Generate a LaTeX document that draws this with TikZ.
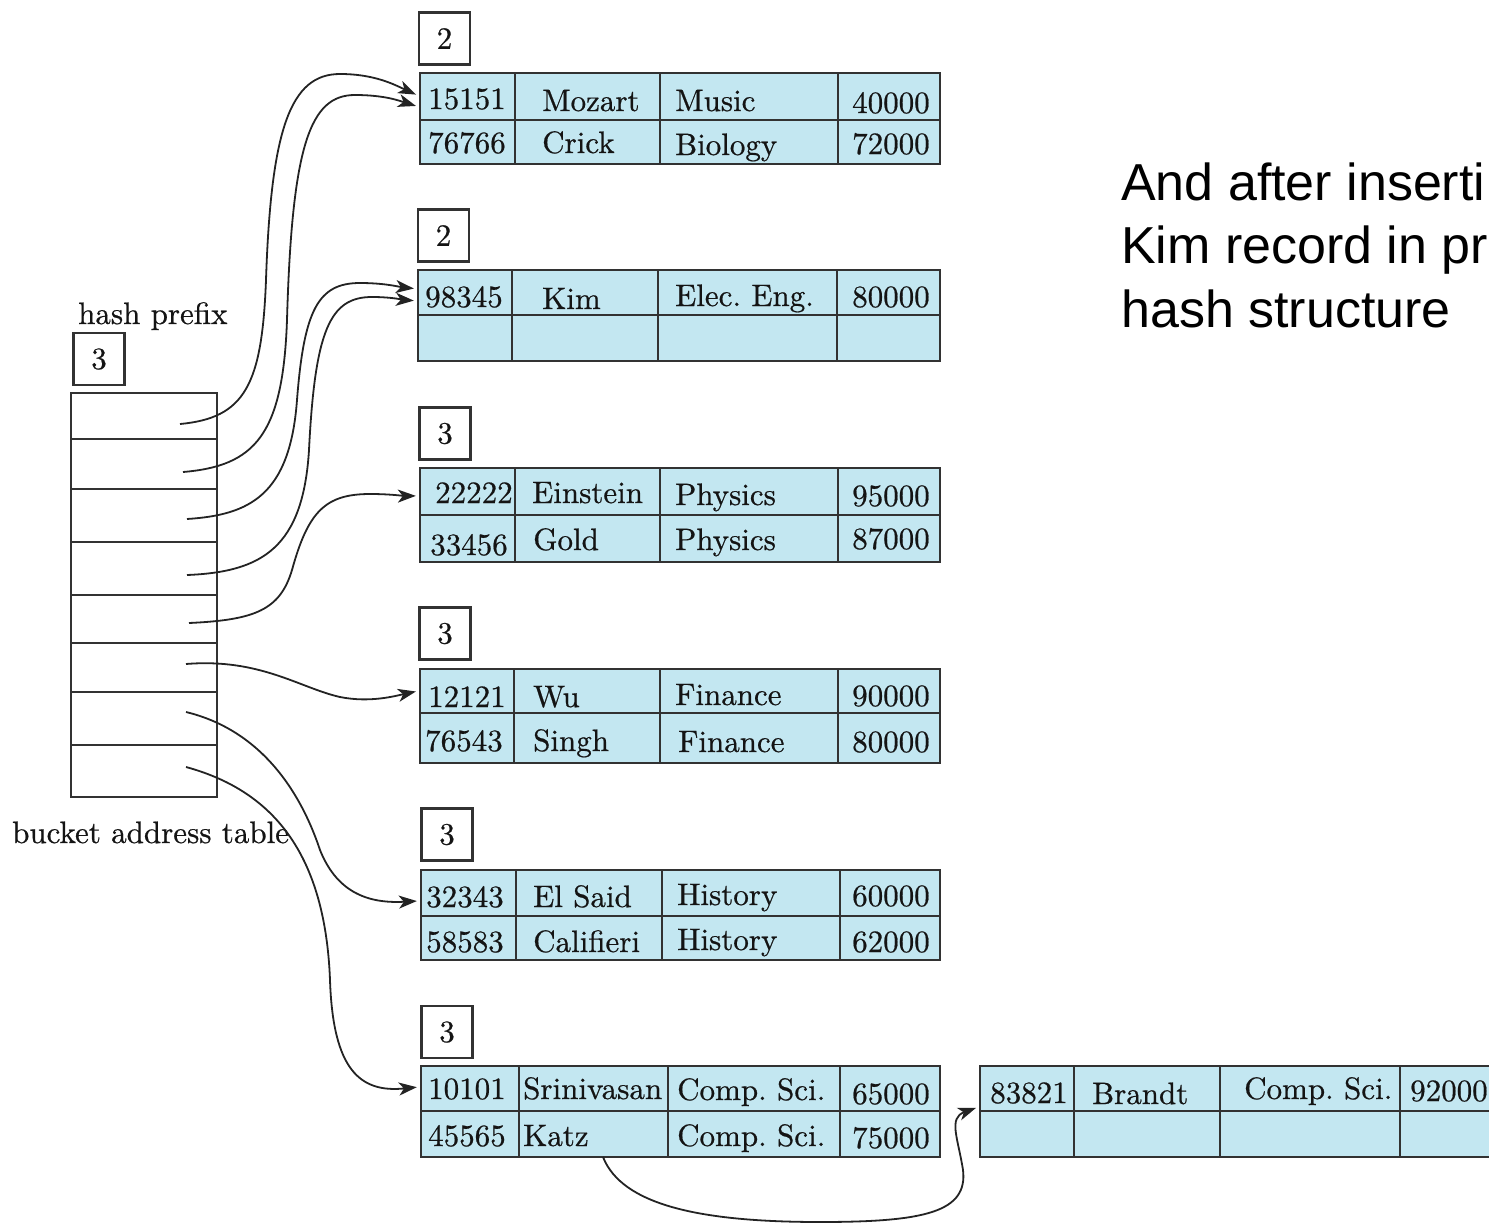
\documentclass[tikz,border=0pt]{standalone}
\usepackage{fontspec}
\newfontfamily\sansfnt{Liberation Sans}
\newfontfamily\cellfnt{lmroman10-regular.otf}[FakeBold=0.6]
\usetikzlibrary{arrows.meta,fit}
\frenchspacing
\definecolor{cellblue}{RGB}{195,231,241}
\definecolor{lineclr}{RGB}{50,50,50}
\definecolor{txtclr}{RGB}{20,20,20}
\definecolor{arrclr}{RGB}{35,35,35}
\newcommand{\celltxt}{\cellfnt\fontsize{31}{37}\selectfont}
\newcommand{\mkbucket}[9]{%
  \node[bktnode, fit={(#2,#3) (#4,#5)}] (#1) {};
  \draw[tbl] (#2,#6) -- (#4,#6) (#7,#3) -- (#7,#5) (#8,#3) -- (#8,#5) (#9,#3) -- (#9,#5);
}
\tikzset{
  bktnode/.style={draw=lineclr, line width=2.3pt, fill=cellblue, inner sep=0pt},
  tbl/.style={draw=lineclr, line width=2.3pt},
  depthbox/.style={draw=lineclr, line width=2.3pt, fill=white, minimum width=51pt, minimum height=52pt, inner sep=0pt, font=\celltxt, text=txtclr},
  cell/.style={anchor=base west, inner sep=0pt, font=\celltxt, text=txtclr},
  arr/.style={draw=arrclr, line width=1.8pt, -{Stealth[length=18pt,width=13pt,inset=5pt]}, shorten >=3pt},
  note/.style={anchor=base west, inner sep=0pt, font=\sansfnt\fontsize{52}{63}\selectfont, text=black},
}
\begin{document}
\begin{tikzpicture}[x=1pt,y=-1pt]
\useasboundingbox (0,0) rectangle (1489,1226);
\clip (0,0) rectangle (1489,1226);

% ---------- bucket address table ----------
\node[cell] (hp) at (78,324) {hash prefix};
\node[depthbox] (gd) at (99,359) {3};
\node[draw=lineclr, line width=2.3pt, fit={(71,393) (217,797)}, inner sep=0pt] (bat) {};
\foreach \yy in {439,489,542,595,643,692,745}
  \draw[tbl] (71,\yy) -- (217,\yy);
\node[cell] (bl) at (12,843) {bucket address table};

% ---------- buckets ----------
\mkbucket{b1}{420}{73}{940}{164}{120}{515}{660}{838}
\node[depthbox] (d1) at (444.5,38.5) {2};
\node[cell] at (428,109) {15151};
\node[cell] at (542,111) {Mozart};
\node[cell] at (675,111) {Music};
\node[cell] at (852,113) {40000};
\node[cell] at (428,153) {76766};
\node[cell] at (542,153) {Crick};
\node[cell] at (675,155) {Biology};
\node[cell] at (852,154) {72000};

\mkbucket{b2}{418}{270}{940}{361}{315}{512}{658}{837}
\node[depthbox] (d2) at (443.5,235.5) {2};
\node[cell] at (425,307) {98345};
\node[cell] at (542,309) {Kim};
\node[cell] at (675,306) {Elec. Eng.};
\node[cell] at (852,307) {80000};

\mkbucket{b3}{420}{468}{940}{562}{515}{515}{660}{838}
\node[depthbox] (d3) at (445,433.5) {3};
\node[cell] at (435,503) {22222};
\node[cell] at (532,503) {Einstein};
\node[cell] at (675,505) {Physics};
\node[cell] at (852,506) {95000};
\node[cell] at (430,555) {33456};
\node[cell] at (533,550) {Gold};
\node[cell] at (675,550) {Physics};
\node[cell] at (852,549) {87000};

\mkbucket{b4}{420}{669}{940}{763}{713}{514}{660}{838}
\node[depthbox] (d4) at (445,633.5) {3};
\node[cell] at (428,707) {12121};
\node[cell] at (533,707) {Wu};
\node[cell] at (675,705) {Finance};
\node[cell] at (852,706) {90000};
\node[cell] at (425,751) {76543};
\node[cell] at (533,751) {Singh};
\node[cell] at (678,752) {Finance};
\node[cell] at (852,752) {80000};

\mkbucket{b5}{421}{870}{940}{960}{916}{516}{662}{840}
\node[depthbox] (d5) at (447,834.5) {3};
\node[cell] at (426,907) {32343};
\node[cell] at (533,907) {El Said};
\node[cell] at (677,905) {History};
\node[cell] at (852,906) {60000};
\node[cell] at (426,952) {58583};
\node[cell] at (533,952) {Califieri};
\node[cell] at (677,950) {History};
\node[cell] at (852,952) {62000};

\mkbucket{b6}{421}{1066}{940}{1157}{1111}{519}{668}{840}
\node[depthbox] (d6) at (447,1032) {3};
\node[cell] at (428,1099) {10101};
\node[cell] at (523,1099) {Srinivasan};
\node[cell] at (677,1100) {Comp. Sci.};
\node[cell] at (852,1104) {65000};
\node[cell] at (428,1146) {45565};
\node[cell] at (523,1146) {Katz};
\node[cell] at (677,1146) {Comp. Sci.};
\node[cell] at (852,1148) {75000};

\mkbucket{b7}{980}{1066}{1515}{1157}{1111}{1074}{1220}{1400}
\node[cell] at (990,1103) {83821};
\node[cell] at (1092,1104) {Brandt};
\node[cell] at (1244,1099) {Comp. Sci.};
\node[cell] at (1410,1101) {92000};

% ---------- note (as cut by the picture's edge) ----------
\node[note] (t1) at (1121,200) {And after inserti};
\node[note] (t2) at (1121,263) {Kim record in pr};
\node[note] (t3) at (1121,327) {hash structure};

% ---------- pointers ----------
\coordinate (s1) at (180,424);
\coordinate (s2) at (183,472);
\coordinate (s3) at (187,519);
\coordinate (s4) at (187,575);
\coordinate (s5) at (189,623);
\coordinate (s6) at (186,664);
\coordinate (s7) at (186,712);
\coordinate (s8) at (186,767);
\coordinate (ov) at (603,1157);

\draw[arr] (s1) .. controls (245,418) and (262,385) .. (266,280)
  .. controls (271,130) and (290,74) .. (340,74)
  .. controls (375,74) and (395,85) .. ([yshift=-24pt]b1.north west);
\draw[arr] (s2) .. controls (255,466) and (283,435) .. (287,320)
  .. controls (292,145) and (310,95) .. (355,95)
  .. controls (385,95) and (400,101) .. ([yshift=-35pt]b1.north west);
\draw[arr] (s3) .. controls (250,515) and (290,495) .. (297,400)
  .. controls (304,310) and (318,283) .. (360,283)
  .. controls (385,283) and (400,287) .. ([yshift=-20pt]b2.north west);
\draw[arr] (s4) .. controls (262,572) and (303,548) .. (309,450)
  .. controls (315,330) and (330,297) .. (372,297)
  .. controls (392,297) and (405,300) .. ([yshift=-32pt]b2.north west);
\draw[arr] (s5) .. controls (255,620) and (280,610) .. (292,570)
  .. controls (308,512) and (325,494) .. (370,494)
  .. controls (390,494) and (405,496) .. ([yshift=-29pt]b3.north west);
\draw[arr] (s6) .. controls (260,658) and (300,688) .. (340,697)
  .. controls (370,703) and (395,696) .. ([yshift=-23pt]b4.north west);
\draw[arr] (s7) .. controls (260,730) and (300,790) .. (320,850)
  .. controls (336,890) and (365,904) .. ([yshift=-32pt]b5.north west);
\draw[arr] (s8) .. controls (270,790) and (325,850) .. (330,980)
  .. controls (333,1070) and (360,1093) .. ([yshift=-22pt]b6.north west);
\draw[arr] (ov) .. controls (622,1205) and (700,1222) .. (820,1222)
  .. controls (925,1222) and (968,1212) .. (963,1170)
  .. controls (958,1138) and (948,1118) .. ([yshift=-42pt]b7.north west);
\end{tikzpicture}
\end{document}
